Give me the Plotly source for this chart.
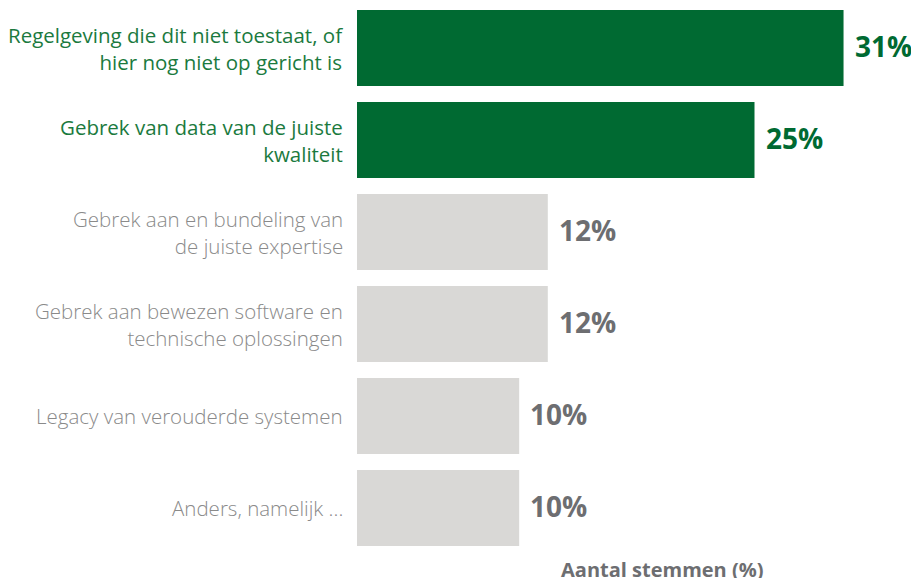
import plotly.graph_objects as go

categories = [
    "Regelgeving die dit niet toestaat, of<br>hier nog niet op gericht is",
    "Gebrek van data van de juiste<br>kwaliteit",
    "Gebrek aan en bundeling van<br>de juiste expertise",
    "Gebrek aan bewezen software en<br>technische oplossingen",
    "Legacy van verouderde systemen",
    "Anders, namelijk ...",
]
values = [30.6, 25.0, 12.0, 12.0, 10.2, 10.2]
labels = ["31%", "25%", "12%", "12%", "10%", "10%"]
highlight = [True, True, False, False, False, False]

GREEN = "#006a32"
GREEN_TXT = "#1b7a3e"
GRAY_BAR = "#d9d8d6"
GRAY_TXT = "#8a8a8a"
GRAY_VAL = "#6d6e71"

bar_colors = [GREEN if h else GRAY_BAR for h in highlight]

fig = go.Figure(go.Bar(
    x=values, y=categories, orientation="h",
    marker=dict(color=bar_colors, line=dict(width=0)),
    hoverinfo="skip",
))

annotations = []
for c, v, lab, h in zip(categories, values, labels, highlight):
    annotations.append(dict(
        x=0, y=c, xref="x", yref="y", text=c, showarrow=False,
        xanchor="right", yanchor="middle", align="right", xshift=-12,
        font=dict(family="Open Sans", size=20.5, color=GREEN_TXT if h else GRAY_TXT,
                  weight=400 if h else 300),
    ))
    annotations.append(dict(
        x=v, y=c, xref="x", yref="y", text=lab, showarrow=False,
        xanchor="left", yanchor="middle", xshift=9, yshift=2,
        font=dict(family="Open Sans", size=28, color=GREEN if h else GRAY_VAL, weight=700),
    ))
annotations.append(dict(
    x=(662 - 357) / 554, y=-(569 - 554) / 552, xref="paper", yref="paper",
    text="Aantal stemmen (%)", showarrow=False, xanchor="center", yanchor="middle",
    font=dict(family="Open Sans", size=20, color=GRAY_VAL, weight=700),
))

fig.update_layout(
    width=911, height=578,
    margin=dict(l=357, r=0, t=2, b=24),
    paper_bgcolor="white", plot_bgcolor="white",
    bargap=0.174,
    showlegend=False,
    xaxis=dict(range=[0, 554 / 15.9], visible=False, fixedrange=True),
    yaxis=dict(autorange="reversed", showticklabels=False, showgrid=False,
               zeroline=False, showline=False, ticks="", fixedrange=True),
    annotations=annotations,
    font=dict(family="Open Sans"),
)

fig.write_html("out.html", config={"displayModeBar": False},
               post_script="document.body.style.margin='0px';")
